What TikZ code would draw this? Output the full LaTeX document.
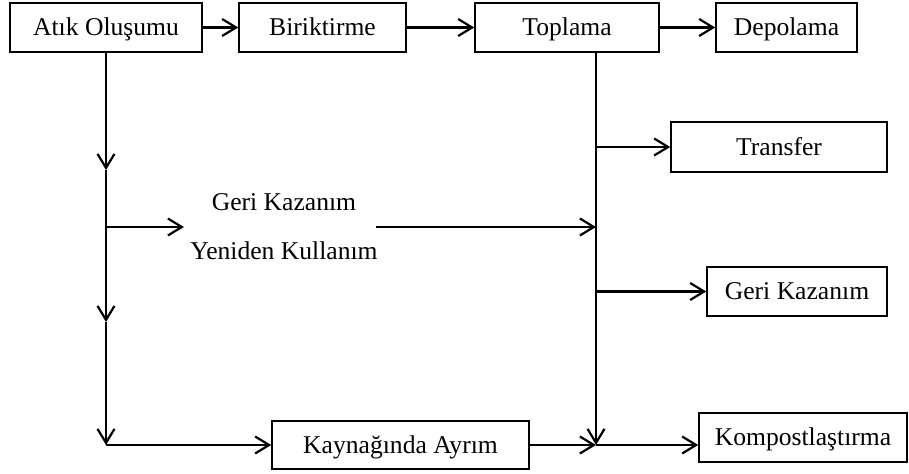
\documentclass[tikz,border=0pt]{standalone}
\usepackage{fontspec}
\setmainfont{Liberation Serif}
\usetikzlibrary{arrows.meta, positioning}

\begin{document}
\begin{tikzpicture}[
    x=0.5pt, y=-0.5pt,
    box/.style={draw, line width=0.75pt, inner sep=0pt, align=center, minimum height=24.5pt, text height=10pt, text depth=1.5pt, font=\fontsize{12.8}{15}\selectfont},
    plain/.style={inner sep=3pt, align=center, font=\fontsize{12.8}{15}\selectfont},
    arr/.style={-{Straight Barb[length=7pt, width=8.5pt, line width=1.1pt]}, line width=1.1pt}
]
\useasboundingbox (0,0) rectangle (909,474);

% top row
\node[box, minimum width=96pt] (atik) at (106,27.5) {Atık Oluşumu};
\node[box, minimum width=83.5pt] (birik) at (322.5,27.5) {Biriktirme};
\node[box, minimum width=92pt] (toplama) at (567,27.5) {Toplama};
\node[box, minimum width=70.5pt] (depo) at (786.5,27.5) {Depolama};

% right column
\node[box, minimum width=108pt, minimum height=25pt] (transfer) at (779,147) {Transfer};
\node[box, minimum width=90pt] (gerikaz) at (797,291.5) {Geri Kazanım};
\node[box, minimum width=104pt] (kompost) at (803,437.5) {Kompostlaştırma};

% middle and bottom
\node[plain] (reuse) at (284,227) {Geri Kazanım\\[9.5pt]Yeniden Kullanım};
\node[box, minimum width=128.5pt, minimum height=24pt] (kaynak) at (400.5,445) {Kaynağında Ayrım};

\coordinate (d1) at (106,170);
\coordinate (d2) at (106,322);
\coordinate (d3) at (106,445);
\coordinate (tbot) at ([xshift=14.5pt]toplama.south);
\coordinate (tend) at (596,445);

\draw[arr] (atik) -- (birik);
\draw[arr] (birik) -- (toplama);
\draw[arr] (toplama) -- (depo);

\draw[arr] (atik.south) -- (d1);
\draw[arr] (d1) -- (d2);
\draw[arr] (d2) -- (d3);
\draw[arr] (d3) -- (kaynak.west);
\draw[arr] (atik.south |- reuse.west) -- (reuse.west);

\draw[arr] (tbot) -- (tend);
\draw[arr] (tbot |- transfer.west) -- (transfer.west);
\draw[arr] (tbot |- gerikaz.west) -- (gerikaz.west);
\draw[arr] ([xshift=-4pt]reuse.east) -- (tbot |- reuse.east);
\draw[arr] (kaynak.east) -- (tend);
\draw[arr] (tend) -- (tend -| kompost.west);
\end{tikzpicture}
\end{document}
